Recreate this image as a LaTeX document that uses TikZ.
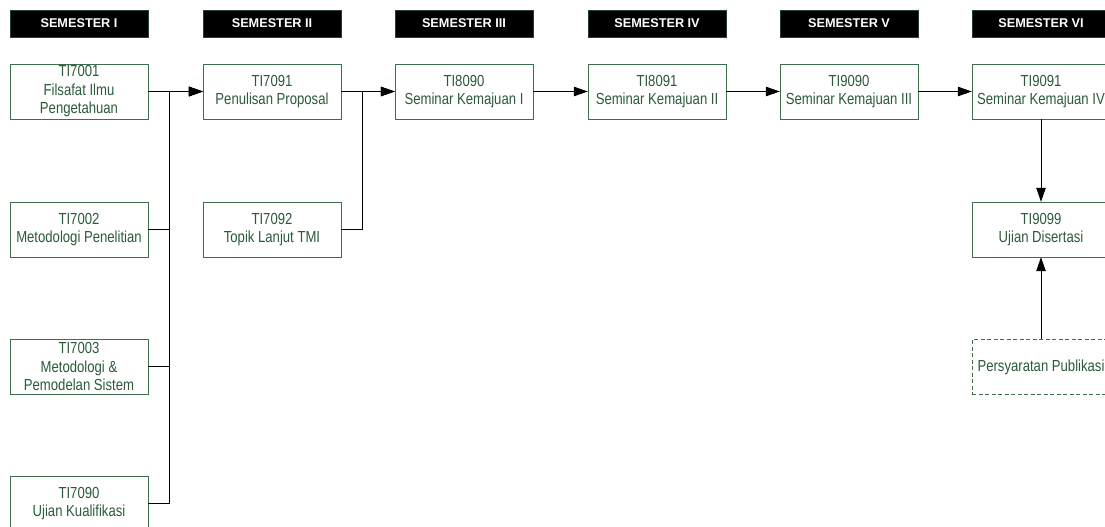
\documentclass[tikz,border=0pt]{standalone}
\usepackage{fontspec}
\setmainfont{Liberation Sans}
\newfontfamily\narrowsans{Liberation Sans}[FakeStretch=0.82]
\usetikzlibrary{arrows.meta}

\definecolor{mkgreen}{HTML}{3F6E4C}
\definecolor{mktext}{HTML}{2C5A3A}

\tikzset{
	semhead/.style={draw=mkgreen!60!black, fill=black, text=white, minimum width=138pt, minimum height=27pt, inner sep=0pt, font=\bfseries\fontsize{12.7pt}{15pt}\selectfont},
	course/.style={draw=mkgreen, fill=white, text=mktext, align=center, minimum width=138pt, minimum height=55pt, inner sep=0pt, font=\narrowsans\fontsize{16pt}{18.5pt}\selectfont},
	syarat/.style={course, dash pattern=on 4pt off 2.5pt},
	flow/.style={-{Triangle[length=14pt,width=9.5pt]}, line width=0.8pt},
}

\begin{document}
\begin{tikzpicture}[x=1pt,y=-1pt]

	\useasboundingbox (0,0) rectangle (1105,527);

	\foreach \n/\x/\lbl in {1/79/I, 2/272/II, 3/464/III, 4/657/IV, 5/849/V, 6/1041/VI}{
		\node[semhead] (sem\n) at (\x,23.5) {SEMESTER \lbl};
	}

	\node[course] (ti7001) at (79,91.5) {TI7001\\Filsafat Ilmu\\Pengetahuan};
	\node[course] (ti7002) at (79,229.5) {TI7002\\Metodologi Penelitian};
	\node[course] (ti7003) at (79,366.5) {TI7003\\Metodologi \&\\Pemodelan Sistem};
	\node[course] (ti7090) at (79,503.5) {TI7090\\Ujian Kualifikasi};

	\node[course] (ti7091) at (272,91.5) {TI7091\\Penulisan Proposal};
	\node[course] (ti7092) at (272,229.5) {TI7092\\Topik Lanjut TMI};

	\node[course] (ti8090) at (464,91.5) {TI8090\\Seminar Kemajuan I};
	\node[course] (ti8091) at (657,91.5) {TI8091\\Seminar Kemajuan II};
	\node[course] (ti9090) at (849,91.5) {TI9090\\Seminar Kemajuan III};
	\node[course] (ti9091) at (1041,91.5) {TI9091\\Seminar Kemajuan IV};
	\node[course] (ti9099) at (1041,229.5) {TI9099\\Ujian Disertasi};
	\node[syarat] (publ) at (1041,367) {Persyaratan Publikasi};

	\draw[flow] (ti7001.east) -- ++(21,0) |- (ti7091.west);
	\draw[flow] (ti7002.east) -- ++(21,0) |- (ti7091.west);
	\draw[flow] (ti7003.east) -- ++(21,0) |- (ti7091.west);
	\draw[flow] (ti7090.east) -- ++(21,0) |- (ti7091.west);

	\draw[flow] (ti7091.east) -- ++(21,0) |- (ti8090.west);
	\draw[flow] (ti7092.east) -- ++(21,0) |- (ti8090.west);

	\draw[flow] (ti8090) -- (ti8091);
	\draw[flow] (ti8091) -- (ti9090);
	\draw[flow] (ti9090) -- (ti9091);
	\draw[flow] (ti9091) -- (ti9099);
	\draw[flow] (publ) -- (ti9099);

\end{tikzpicture}
\end{document}
